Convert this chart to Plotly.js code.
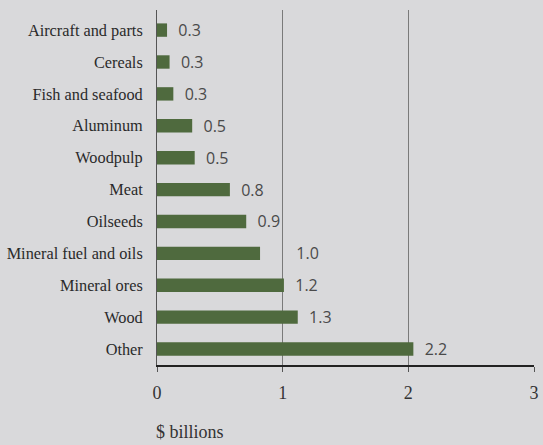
<!DOCTYPE html>
<html>
<head>
<meta charset="utf-8">
<script src="https://cdn.plot.ly/plotly-3.0.1.min.js"></script>
<style>html,body{margin:0;padding:0;background:#d9d9db;}#chart{width:543px;height:445px;}</style>
</head>
<body>
<div id="chart"></div>
<script>
// Categories, top to bottom
const categories = ["Aircraft and parts", "Cereals", "Fish and seafood", "Aluminum", "Woodpulp",
  "Meat", "Oilseeds", "Mineral fuel and oils", "Mineral ores", "Wood", "Other"];
// Bar lengths as drawn in the picture ($ billions)
const barValues = [0.08, 0.10, 0.13, 0.28, 0.30, 0.58, 0.71, 0.82, 1.01, 1.12, 2.04];
// Printed value labels
const valueLabels = ["0.3", "0.3", "0.3", "0.5", "0.5", "0.8", "0.9", "1.0", "1.2", "1.3", "2.2"];
const xTickVals = [0, 1, 2, 3];
const xTickText = ["0", "1", "2", "3"];
const unitLabel = "$ billions";

// Label padding: keep labels clear of the vertical gridlines
const pxPerUnit = 377 / 3;
const labelTexts = barValues.map((v, i) => {
  let spaces = 2;
  const start = v + 10 / pxPerUnit;
  const end = start + 24 / pxPerUnit;
  const grid = Math.ceil(start);
  if (grid <= end && grid > v) spaces = 2 + Math.ceil((grid - start) * pxPerUnit / 4.2) + 2;
  return "\u00a0".repeat(spaces) + valueLabels[i];
});

const trace = {
  type: "bar",
  orientation: "h",
  y: categories,
  x: barValues,
  width: 0.42,
  marker: {color: "#4f6a3e", line: {width: 0}},
  text: labelTexts,
  textposition: "outside",
  constraintext: "none",
  cliponaxis: false,
  textfont: {family: "Open Sans", size: 16, color: "#4a4a4a"},
  hoverinfo: "none"
};

const layout = {
  width: 543, height: 445,
  paper_bgcolor: "#d9d9db",
  plot_bgcolor: "#d9d9db",
  margin: {l: 157, r: 9, t: 10, b: 80},
  showlegend: false,
  bargap: 0.5,
  xaxis: {
    range: [0, 3],
    tickvals: xTickVals,
    ticktext: xTickText,
    showgrid: true, gridcolor: "#7a7a7a", gridwidth: 1,
    zeroline: false,
    showline: true, linecolor: "#222", linewidth: 2,
    ticks: "outside", ticklen: 5, tickcolor: "#555", tickwidth: 1,
    ticklabelstandoff: 5,
    tickfont: {family: "Liberation Serif", size: 18, color: "#333"},
    fixedrange: true
  },
  yaxis: {
    type: "category",
    range: [10.5, -0.63],
    showgrid: false,
    zeroline: false,
    showline: true, linecolor: "#555", linewidth: 1,
    ticks: "",
    ticklabelstandoff: 10,
    tickfont: {family: "Liberation Serif", size: 16.3, color: "#2a2a2a"},
    fixedrange: true
  },
  annotations: [{
    xref: "paper", yref: "paper",
    x: 0, y: 0, xanchor: "left", yanchor: "middle",
    xshift: -3, yshift: -67,
    text: unitLabel, showarrow: false,
    font: {family: "Liberation Serif", size: 18, color: "#333"}
  }]
};

Plotly.newPlot("chart", [trace], layout, {displayModeBar: false, staticPlot: true});
</script>
</body>
</html>
